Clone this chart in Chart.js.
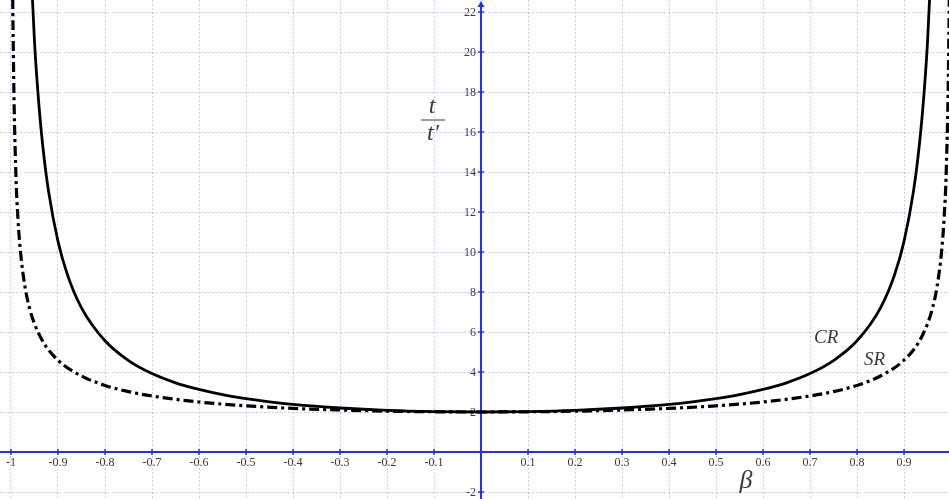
<!DOCTYPE html>
<html>
<head>
<meta charset="utf-8">
<script src="https://cdn.jsdelivr.net/npm/chart.js@4.4.1/dist/chart.umd.min.js"></script>
<style>
  html, body { margin: 0; padding: 0; background: #fff; }
  canvas { display: block; }
</style>
</head>
<body>
<canvas id="chart" width="949" height="499"></canvas>
<script>
// β values and t/t'
const crBeta = [-0.96, -0.95, -0.94, -0.93, -0.92, -0.9, -0.88, -0.85, -0.8, -0.75, -0.7, -0.65, -0.6, -0.55, -0.5, -0.45, -0.4, -0.3, -0.2, -0.1, 0,
                0.1, 0.2, 0.3, 0.4, 0.45, 0.5, 0.55, 0.6, 0.65, 0.7, 0.75, 0.8, 0.85, 0.88, 0.9, 0.92, 0.93, 0.94, 0.95, 0.96];
const crValues = [25.51, 20.51, 17.18, 14.80, 13.02, 10.53, 8.87, 7.21, 5.56, 4.57, 3.92, 3.46, 3.13, 2.87, 2.67, 2.51, 2.38, 2.20, 2.08, 2.02, 2.00,
                  2.02, 2.08, 2.20, 2.38, 2.51, 2.67, 2.87, 3.13, 3.46, 3.92, 4.57, 5.56, 7.21, 8.87, 10.53, 13.02, 14.80, 17.18, 20.51, 25.51];

const srBeta = [-0.999, -0.997, -0.995, -0.99, -0.985, -0.98, -0.97, -0.96, -0.95, -0.93, -0.9, -0.85, -0.8, -0.75, -0.7, -0.6, -0.5, -0.4, -0.3, -0.2, -0.1, 0,
                0.1, 0.2, 0.3, 0.4, 0.5, 0.6, 0.7, 0.75, 0.8, 0.85, 0.9, 0.93, 0.95, 0.96, 0.97, 0.98, 0.985, 0.99, 0.995, 0.997, 0.999];
const srValues = [44.7, 25.84, 20.03, 14.18, 11.59, 10.05, 8.23, 7.14, 6.41, 5.44, 4.59, 3.80, 3.33, 3.02, 2.80, 2.50, 2.31, 2.18, 2.10, 2.04, 2.01, 2.00,
                  2.01, 2.04, 2.10, 2.18, 2.31, 2.50, 2.80, 3.02, 3.33, 3.80, 4.59, 5.44, 6.41, 7.14, 8.23, 10.05, 11.59, 14.18, 20.03, 25.84, 44.7];

const xTicks = [-1, -0.9, -0.8, -0.7, -0.6, -0.5, -0.4, -0.3, -0.2, -0.1, 0, 0.1, 0.2, 0.3, 0.4, 0.5, 0.6, 0.7, 0.8, 0.9, 1];
const xTickLabels = ['-1', '-0.9', '-0.8', '-0.7', '-0.6', '-0.5', '-0.4', '-0.3', '-0.2', '-0.1', '', '0.1', '0.2', '0.3', '0.4', '0.5', '0.6', '0.7', '0.8', '0.9', '1'];
const yTicks = [-2, 0, 2, 4, 6, 8, 10, 12, 14, 16, 18, 20, 22];
const yTickLabels = ['-2', '', '2', '4', '6', '8', '10', '12', '14', '16', '18', '20', '22'];

const toPoints = (xs, ys) => xs.map((x, i) => ({ x: x, y: ys[i] }));

const AXIS_BLUE = '#1f2fff';
const TEXT_COLOR = '#3a3a3a';
const GRID_COLOR = 'rgba(140,140,255,0.45)';

const axesPlugin = {
    id: 'axesPlugin',
    beforeDatasetsDraw(chart) {
        const ctx = chart.ctx;
        const xs = chart.scales.x;
        const ys = chart.scales.y;
        const x0 = xs.getPixelForValue(0);
        const y0 = ys.getPixelForValue(0);
        const area = chart.chartArea;

        ctx.save();
        ctx.strokeStyle = AXIS_BLUE;
        ctx.fillStyle = AXIS_BLUE;
        ctx.lineWidth = 2;

        // x axis
        ctx.beginPath();
        ctx.moveTo(area.left, y0);
        ctx.lineTo(area.right, y0);
        ctx.stroke();

        // y axis + arrow
        ctx.beginPath();
        ctx.moveTo(x0, area.bottom);
        ctx.lineTo(x0, area.top + 4);
        ctx.stroke();
        ctx.beginPath();
        ctx.moveTo(x0, area.top + 1);
        ctx.lineTo(x0 - 3.5, area.top + 7);
        ctx.lineTo(x0 + 3.5, area.top + 7);
        ctx.closePath();
        ctx.fill();

        // tick marks
        ctx.lineWidth = 1.5;
        xTicks.forEach(v => {
            if (v === 0) return;
            const px = xs.getPixelForValue(v);
            ctx.beginPath();
            ctx.moveTo(px, y0 - 3);
            ctx.lineTo(px, y0 + 3);
            ctx.stroke();
        });
        yTicks.forEach(v => {
            if (v === 0) return;
            const py = ys.getPixelForValue(v);
            ctx.beginPath();
            ctx.moveTo(x0 - 3, py);
            ctx.lineTo(x0 + 3, py);
            ctx.stroke();
        });

        // tick labels
        ctx.fillStyle = TEXT_COLOR;
        ctx.font = '12px "Liberation Serif", serif';
        ctx.textAlign = 'center';
        ctx.textBaseline = 'middle';
        xTicks.forEach((v, i) => {
            if (!xTickLabels[i]) return;
            ctx.fillText(xTickLabels[i], xs.getPixelForValue(v), y0 + 11);
        });
        ctx.textAlign = 'right';
        yTicks.forEach((v, i) => {
            if (!yTickLabels[i]) return;
            ctx.fillText(yTickLabels[i], x0 - 5, ys.getPixelForValue(v) + 1);
        });

        // axis titles
        ctx.font = 'italic 24px "Liberation Serif", serif';
        ctx.textAlign = 'center';
        ctx.textBaseline = 'alphabetic';
        ctx.fillText('t', 432, 113);
        ctx.fillText('t\u2032', 433, 140);
        ctx.strokeStyle = TEXT_COLOR;
        ctx.lineWidth = 1;
        ctx.beginPath();
        ctx.moveTo(421, 120);
        ctx.lineTo(445, 120);
        ctx.stroke();

        ctx.font = 'italic 26px "Liberation Serif", serif';
        ctx.fillText('\u03b2', 746, 488);

        // curve labels
        ctx.font = 'italic 19px "Liberation Serif", serif';
        ctx.textAlign = 'left';
        ctx.fillText('CR', 814, 343);
        ctx.fillText('SR', 864, 365);
        ctx.restore();
    }
};

const ctx = document.getElementById('chart').getContext('2d');
new Chart(ctx, {
    type: 'scatter',
    data: {
        datasets: [
            {
                label: 'CR',
                data: toPoints(crBeta, crValues),
                showLine: true,
                borderColor: '#000',
                borderWidth: 2.8,
                pointRadius: 0,
                cubicInterpolationMode: 'monotone'
            },
            {
                label: 'SR',
                data: toPoints(srBeta, srValues),
                showLine: true,
                borderColor: '#000',
                borderWidth: 3.2,
                borderDash: [10, 4, 3, 4],
                pointRadius: 0,
                cubicInterpolationMode: 'monotone'
            }
        ]
    },
    options: {
        responsive: false,
        devicePixelRatio: 1,
        animation: false,
        layout: { padding: 0 },
        plugins: {
            legend: { display: false },
            tooltip: { enabled: false }
        },
        scales: {
            x: {
                type: 'linear',
                min: -1.0234,
                max: 0.9957,
                afterBuildTicks: axis => { axis.ticks = xTicks.map(v => ({ value: v })); },
                ticks: { display: false },
                grid: { color: GRID_COLOR, lineWidth: 1, drawTicks: false },
                border: { display: false, dash: [2, 2] }
            },
            y: {
                type: 'linear',
                min: -2.35,
                max: 22.6,
                afterBuildTicks: axis => { axis.ticks = yTicks.map(v => ({ value: v })); },
                ticks: { display: false },
                grid: { color: GRID_COLOR, lineWidth: 1, drawTicks: false },
                border: { display: false, dash: [2, 2] }
            }
        }
    },
    plugins: [axesPlugin]
});
</script>
</body>
</html>
